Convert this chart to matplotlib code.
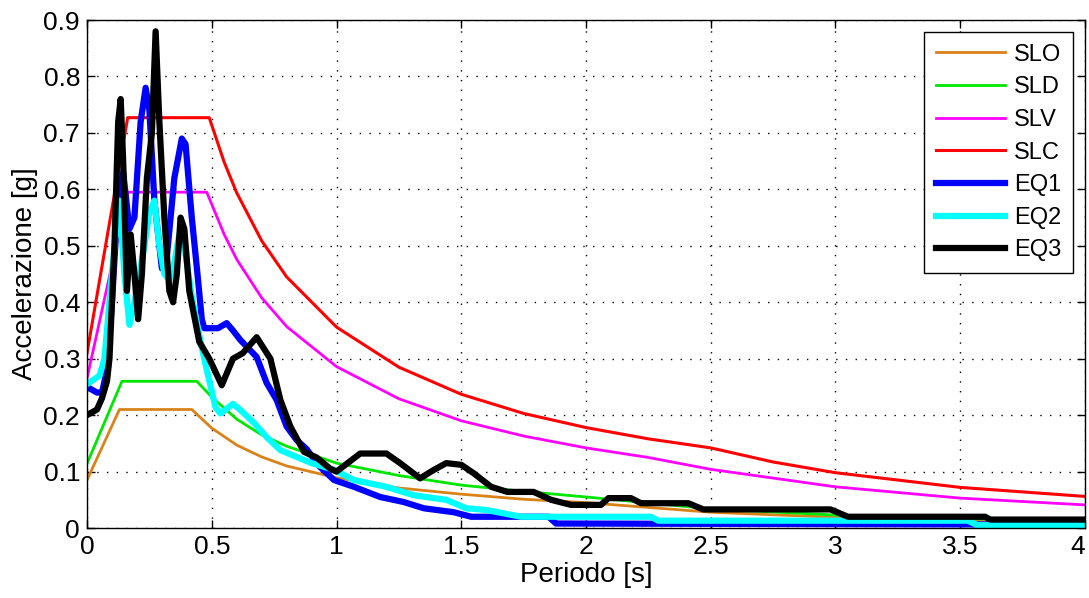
import matplotlib
matplotlib.use("Agg")
import matplotlib.pyplot as plt
import matplotlib.transforms as mtransforms

plt.rcParams['font.family'] = ['Liberation Sans', 'DejaVu Sans']

# spettri di progetto (NTC) letti per punti
t_slo = [0, 0.13, 0.42, 0.5, 0.6, 0.7, 0.8, 1.0, 1.25, 1.5, 1.75, 2.0, 2.5, 3.0, 3.5, 4.0]
sa_slo = [0.085, 0.21, 0.21, 0.177, 0.147, 0.126, 0.110, 0.089, 0.071, 0.060, 0.051, 0.045, 0.028, 0.019, 0.014, 0.011]

t_sld = [0, 0.14, 0.44, 0.5, 0.6, 0.7, 0.8, 1.0, 1.25, 1.5, 1.75, 2.0, 2.5, 3.0, 3.5, 4.0]
sa_sld = [0.114, 0.26, 0.26, 0.232, 0.193, 0.165, 0.145, 0.115, 0.093, 0.076, 0.065, 0.055, 0.034, 0.023, 0.017, 0.013]

t_slv = [0, 0.164, 0.48, 0.55, 0.6, 0.7, 0.8, 1.0, 1.25, 1.5, 1.75, 2.0, 2.25, 2.5, 3.0, 3.5, 4.0]
sa_slv = [0.265, 0.595, 0.595, 0.52, 0.476, 0.408, 0.357, 0.286, 0.229, 0.19, 0.163, 0.142, 0.125, 0.104, 0.073, 0.053, 0.041]

t_slc = [0, 0.163, 0.49, 0.55, 0.6, 0.7, 0.8, 1.0, 1.25, 1.5, 1.75, 2.0, 2.25, 2.5, 2.75, 3.0, 3.5, 4.0]
sa_slc = [0.31, 0.727, 0.727, 0.648, 0.594, 0.509, 0.445, 0.356, 0.285, 0.237, 0.203, 0.178, 0.158, 0.142, 0.117, 0.098, 0.072, 0.056]

# spettri di risposta degli accelerogrammi
t_eq1 = [0, 0.04, 0.06, 0.08, 0.10, 0.12, 0.13, 0.145, 0.17, 0.19, 0.215, 0.235, 0.25, 0.27,
         0.30, 0.32, 0.35, 0.38, 0.395, 0.42, 0.445, 0.46, 0.47, 0.525, 0.56, 0.585, 0.615,
         0.68, 0.72, 0.76, 0.80, 0.84, 0.88, 0.93, 0.99, 1.07, 1.175, 1.27, 1.35, 1.47, 1.54,
         1.85, 1.88, 4.0]
sa_eq1 = [0.25, 0.24, 0.24, 0.28, 0.40, 0.55, 0.60, 0.63, 0.53, 0.55, 0.72, 0.78, 0.74, 0.58,
          0.46, 0.48, 0.62, 0.69, 0.68, 0.55, 0.44, 0.37, 0.354, 0.354, 0.363, 0.35, 0.333,
          0.303, 0.257, 0.227, 0.18, 0.156, 0.14, 0.11, 0.085, 0.073, 0.055, 0.046, 0.035, 0.028, 0.02,
          0.02, 0.008, 0.006]

t_eq2 = [0, 0.05, 0.07, 0.09, 0.11, 0.13, 0.15, 0.17, 0.19, 0.21, 0.23, 0.25, 0.27, 0.29, 0.31,
         0.33, 0.35, 0.37, 0.39, 0.42, 0.455, 0.48, 0.515, 0.535, 0.585, 0.615, 0.67, 0.72,
         0.775, 0.84, 0.9, 0.99, 1.07, 1.2, 1.31, 1.44, 1.52, 1.6, 1.74, 2.26, 2.29, 3.53, 3.57, 4.0]
sa_eq2 = [0.255, 0.27, 0.30, 0.40, 0.50, 0.58, 0.45, 0.36, 0.40, 0.45, 0.50, 0.56, 0.58, 0.50, 0.45,
          0.44, 0.47, 0.52, 0.50, 0.41, 0.33, 0.28, 0.214, 0.203, 0.22, 0.209, 0.186, 0.161,
          0.138, 0.126, 0.115, 0.103, 0.085, 0.073, 0.058, 0.05, 0.035, 0.032, 0.02, 0.02, 0.013, 0.013, 0.005, 0.005]

t_eq3 = [0, 0.04, 0.06, 0.08, 0.09, 0.11, 0.125, 0.135, 0.145, 0.16, 0.175, 0.19, 0.205, 0.22,
         0.24, 0.26, 0.275, 0.29, 0.31, 0.33, 0.345, 0.36, 0.375, 0.39, 0.41, 0.45, 0.49, 0.54,
         0.585, 0.625, 0.68, 0.735, 0.775, 0.815, 0.87, 0.92, 0.975, 1.0, 1.095, 1.2, 1.255,
         1.335, 1.39, 1.44, 1.5, 1.55, 1.62, 1.685, 1.79, 1.86, 1.94, 2.06, 2.09, 2.18, 2.22,
         2.41, 2.47, 2.98, 3.05, 3.6, 3.62, 4.0]
sa_eq3 = [0.20, 0.21, 0.23, 0.26, 0.30, 0.50, 0.72, 0.76, 0.65, 0.42, 0.52, 0.45, 0.37, 0.45,
          0.62, 0.70, 0.88, 0.72, 0.55, 0.42, 0.40, 0.45, 0.55, 0.53, 0.42, 0.33, 0.30, 0.253,
          0.30, 0.31, 0.338, 0.30, 0.227, 0.18, 0.135, 0.125, 0.105, 0.10, 0.132, 0.132, 0.115,
          0.088, 0.103, 0.115, 0.112, 0.097, 0.073, 0.064, 0.064, 0.05, 0.041, 0.041, 0.053, 0.053, 0.044,
          0.044, 0.033, 0.033, 0.02, 0.02, 0.015, 0.015]

fig = plt.figure(figsize=(10.89, 5.98), dpi=100)
ax = fig.add_axes([0.0799, 0.117, 0.9164, 0.8495])

ax.plot(t_slo, sa_slo, color='#d98218', lw=2.0, label='SLO')
ax.plot(t_sld, sa_sld, color='#00e600', lw=2.0, label='SLD')
ax.plot(t_slv, sa_slv, color='#ff00ff', lw=2.0, label='SLV')
ax.plot(t_slc, sa_slc, color='#ff0000', lw=2.2, label='SLC')
ax.plot(t_eq1, sa_eq1, color='#0000ff', lw=4.5, label='EQ1')
ax.plot(t_eq2, sa_eq2, color='#00ffff', lw=4.5, label='EQ2')
ax.plot(t_eq3, sa_eq3, color='#000000', lw=4.5, label='EQ3')

ax.set_xlim(0, 4)
ax.set_ylim(0, 0.9)
ax.set_xticks([0, 0.5, 1, 1.5, 2, 2.5, 3, 3.5, 4])
ax.set_xticklabels(['0', '0.5', '1', '1.5', '2', '2.5', '3', '3.5', '4'])
ax.set_yticks([0, 0.1, 0.2, 0.3, 0.4, 0.5, 0.6, 0.7, 0.8, 0.9])
ax.set_yticklabels(['0', '0.1', '0.2', '0.3', '0.4', '0.5', '0.6', '0.7', '0.8', '0.9'])
ax.tick_params(direction='in', length=6, width=1, top=True, right=True, labelsize=19, pad=5)
ax.grid(True, color='k', linestyle=(0, (1, 6)), linewidth=1)
for s in ax.spines.values():
    s.set_linewidth(1)

# l'ultima etichetta dell'asse x sta sul bordo: la sposto un po' a sinistra
last = ax.get_xticklabels()[-1]
last.set_transform(last.get_transform() + mtransforms.ScaledTranslation(-5 / 72, 0, fig.dpi_scale_trans))

ax.set_xlabel('Periodo [s]', fontsize=20, labelpad=2)
ax.set_ylabel('Accelerazione [g]', fontsize=20, labelpad=4)

leg = ax.legend(loc='upper right', fontsize=17, handlelength=2.9, handletextpad=0.4,
                fancybox=False, framealpha=1, edgecolor='k', borderaxespad=0.5,
                labelspacing=0.45, borderpad=0.5)
leg.get_frame().set_linewidth(1)

fig.savefig('out.png', dpi=100)
